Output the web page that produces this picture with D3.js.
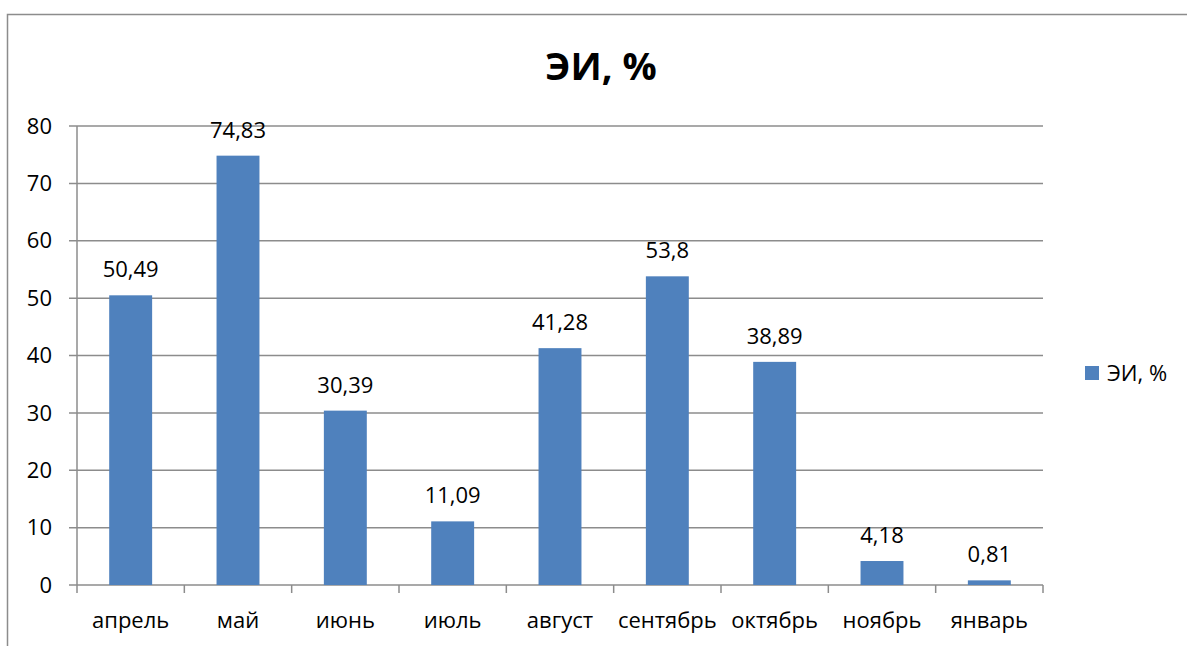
<!DOCTYPE html>
<html>
<head>
<meta charset="utf-8">
<script src="https://cdn.jsdelivr.net/npm/d3@7"></script>
<style>
  body { margin: 0; background: #fff; }
  text { font-family: "Open Sans", sans-serif; fill: #000; }
</style>
</head>
<body>
<script>
// months on the category axis
var months = ["апрель", "май", "июнь", "июль", "август", "сентябрь", "октябрь", "ноябрь", "январь"];
// ЭИ values, %
var values = [50.49, 74.83, 30.39, 11.09, 41.28, 53.8, 38.89, 4.18, 0.81];
// labels as shown on the bars
var valueLabels = ["50,49", "74,83", "30,39", "11,09", "41,28", "53,8", "38,89", "4,18", "0,81"];
var yTicks = [0, 10, 20, 30, 40, 50, 60, 70, 80];
var seriesName = "ЭИ, %";

var width = 1187, height = 646;
var plot = { left: 77, right: 1043, top: 126, bottom: 585 };

var svg = d3.select("body").append("svg")
    .attr("width", width)
    .attr("height", height);

// outer chart border (only top and left visible)
svg.append("rect")
  .attr("x", 7.5).attr("y", 14.5)
  .attr("width", 1300).attr("height", 700)
  .attr("fill", "none")
  .attr("stroke", "#8c8c8c")
  .attr("stroke-width", 1.5);

var x = d3.scaleBand()
  .domain(months)
  .range([plot.left, plot.right])
  .paddingInner(0.6)
  .paddingOuter(0.3);

var y = d3.scaleLinear()
  .domain([0, 80])
  .range([plot.bottom, plot.top]);

// gridlines
svg.append("g")
  .selectAll("line")
  .data(yTicks)
  .join("line")
  .attr("x1", plot.left - 8)
  .attr("x2", plot.right)
  .attr("y1", d => y(d))
  .attr("y2", d => y(d))
  .attr("stroke", "#8c8c8c")
  .attr("stroke-width", 1.5);

// y tick labels
svg.append("g")
  .selectAll("text")
  .data(yTicks)
  .join("text")
  .attr("x", plot.left - 25)
  .attr("y", d => y(d))
  .attr("dy", "0.35em")
  .attr("text-anchor", "end")
  .style("font-size", "22px")
  .text(d => d);

// y axis line
svg.append("line")
  .attr("x1", plot.left).attr("x2", plot.left)
  .attr("y1", plot.top).attr("y2", plot.bottom)
  .attr("stroke", "#8c8c8c")
  .attr("stroke-width", 1.5);

// bars
svg.append("g")
  .selectAll("rect")
  .data(values)
  .join("rect")
  .attr("x", (d, i) => x(months[i]))
  .attr("y", d => y(d))
  .attr("width", x.bandwidth())
  .attr("height", d => y(0) - y(d))
  .attr("fill", "#4f81bd");

// x axis ticks between categories
var tickPos = d3.range(months.length + 1).map(i => plot.left + i * (plot.right - plot.left) / months.length);
svg.append("g")
  .selectAll("line")
  .data(tickPos)
  .join("line")
  .attr("x1", d => d).attr("x2", d => d)
  .attr("y1", plot.bottom).attr("y2", plot.bottom + 8)
  .attr("stroke", "#8c8c8c")
  .attr("stroke-width", 1.5);

// x labels
svg.append("g")
  .selectAll("text")
  .data(months)
  .join("text")
  .attr("x", d => x(d) + x.bandwidth() / 2)
  .attr("y", 628)
  .attr("text-anchor", "middle")
  .style("font-size", "22px")
  .text(d => d);

// data labels
svg.append("g")
  .selectAll("text")
  .data(values)
  .join("text")
  .attr("x", (d, i) => x(months[i]) + x.bandwidth() / 2)
  .attr("y", d => y(d) - 18)
  .attr("text-anchor", "middle")
  .style("font-size", "22px")
  .text((d, i) => valueLabels[i]);

// title
svg.append("text")
  .attr("x", 601)
  .attr("y", 80)
  .attr("text-anchor", "middle")
  .style("font-size", "38px")
  .style("font-weight", "bold")
  .text(seriesName);

// legend
var legend = svg.append("g").attr("transform", "translate(1085,366)");
legend.append("rect")
  .attr("width", 14).attr("height", 14)
  .attr("fill", "#4f81bd");
legend.append("text")
  .attr("x", 22).attr("y", 7)
  .attr("dy", "0.35em")
  .style("font-size", "22px")
  .text(seriesName);
</script>
</body>
</html>
